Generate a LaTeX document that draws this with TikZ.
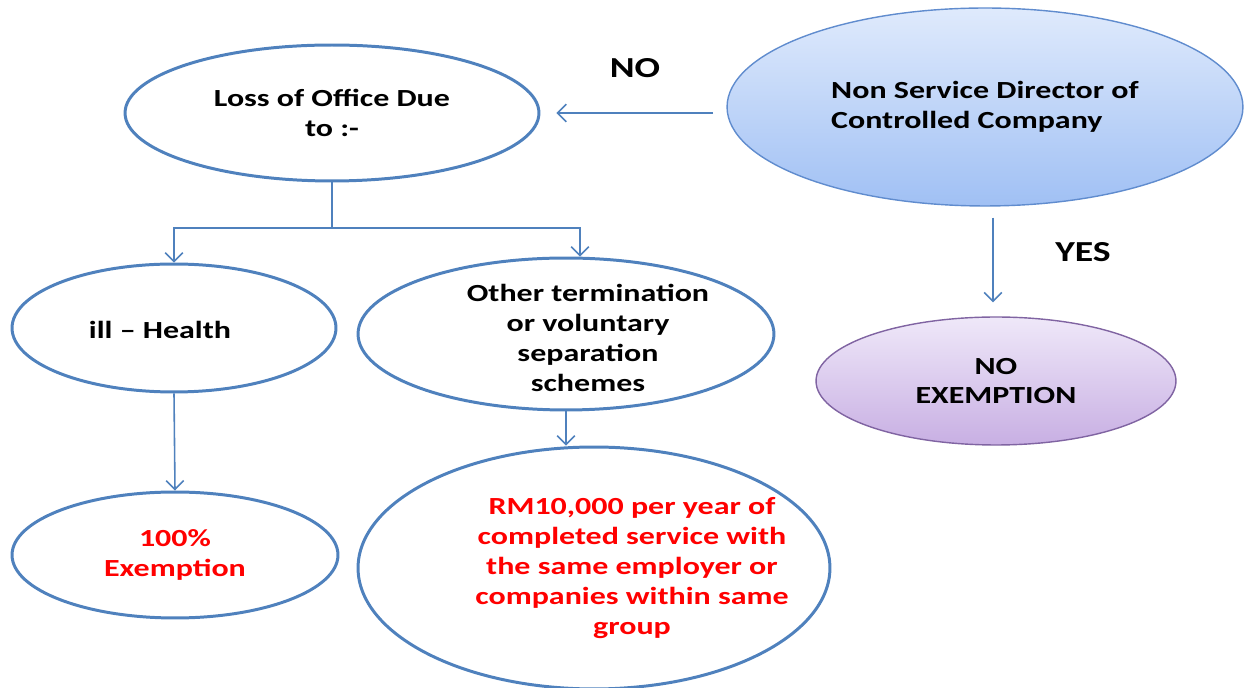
\documentclass[tikz,border=0pt]{standalone}
\usepackage{fontspec}
\setmainfont{Carlito}[FakeStretch=1.3]
\usetikzlibrary{shapes.geometric,arrows.meta,positioning}
\definecolor{lineblue}{RGB}{79,129,189}
\definecolor{nsdtop}{RGB}{223,234,252}
\definecolor{nsdbot}{RGB}{160,192,244}
\definecolor{nsdline}{RGB}{96,140,206}
\definecolor{noextop}{RGB}{239,232,249}
\definecolor{noexbot}{RGB}{200,175,227}
\definecolor{noexline}{RGB}{128,100,162}
\definecolor{rmred}{RGB}{255,0,0}

\begin{document}
\begin{tikzpicture}[x=0.02cm,y=-0.02cm,font=\fontsize{14}{17}\selectfont\bfseries,
  oval/.style={ellipse,draw=lineblue,line width=1.7pt,inner sep=0pt,align=center},
  link/.style={draw=lineblue,line width=0.9pt},
  tip/.style={link,-{Straight Barb[length=5pt,width=10pt]}},
  answer/.style={font=\fontsize{16.5}{19}\selectfont\bfseries}]
\useasboundingbox (0,0) rectangle (1245,688);

% top row
\node[oval,minimum width=8.28cm,minimum height=2.72cm] (loss) at (332,113) {Loss of Office Due\\to :-};
\node[oval,draw=nsdline,line width=0.8pt,top color=nsdtop,bottom color=nsdbot,
  minimum width=10.32cm,minimum height=3.96cm,align=left] (nsd) at (985,107)
  {Non Service Director of\\Controlled Company};

% middle row
\node[oval,minimum width=6.48cm,minimum height=2.56cm] (ill) at (174,328) {};
\node (illtext) at (160,330) {ill -- Health};
\node[oval,minimum width=8.32cm,minimum height=3.04cm] (other) at (566,334) {};
\node[align=center] (othertext) at (588,338)
  {Other termination\\or voluntary\\separation\\schemes};
\node[oval,draw=noexline,line width=0.8pt,top color=noextop,bottom color=noexbot,
  minimum width=7.2cm,minimum height=2.56cm] (noex) at (996,381) {NO\\EXEMPTION};

% bottom row
\node[oval,text=rmred,minimum width=6.52cm,minimum height=2.52cm] (full) at (175,555) {100\%\\Exemption};
\node[oval,minimum width=9.44cm,minimum height=4.84cm] (rm) at (594,568) {};
\node[text=rmred,align=center] (rmtext) at (632,568)
  {RM10,000 per year of\\completed service with\\the same employer or\\companies within same\\group};

\node[answer] (no) at (635,68) {NO};
\node[answer] (yes) at (1083,252) {YES};

% connectors
\coordinate (nsdin) at (713,113);
\coordinate (split) at (332,228);
\draw[tip,shorten >=0.32cm] (nsdin) -- (loss.east);
\draw[link] (loss.south) -- (split);
\draw[tip] (split) -| (ill.north);
\draw[tip] (split) -| ([xshift=0.28cm]other.north);
\draw[tip] (ill.south) -- (full.north);
\draw[tip] (other.south) -- (other.south |- rm.north);
\draw[tip] ([xshift=0.16cm,yshift=-0.22cm]nsd.south) -- ([xshift=0.16cm,yshift=0.28cm]nsd.south |- noex.north);

\end{tikzpicture}
\end{document}
